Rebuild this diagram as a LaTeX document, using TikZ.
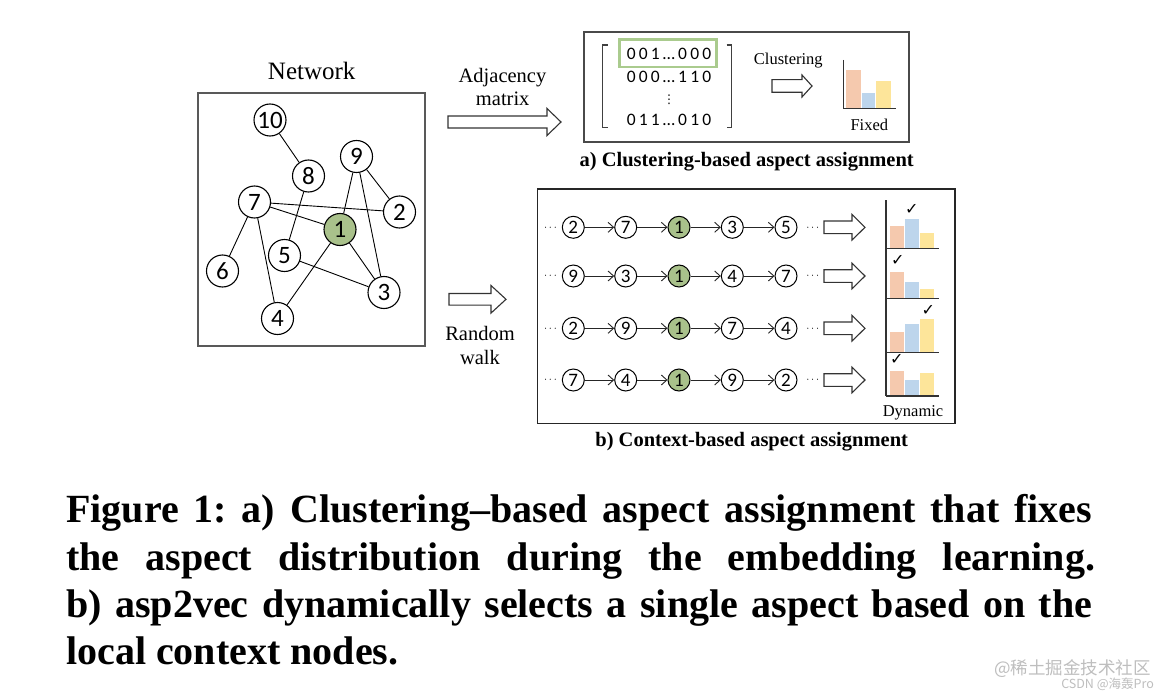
\documentclass[tikz,border=0pt]{standalone}
\usepackage{fontspec}
\setmainfont{Liberation Serif}
\newfontfamily\numfont{Carlito}
\newfontfamily\symfont{DejaVu Sans}
\newfontfamily\cjkfont{Noto Sans CJK SC}
\usetikzlibrary{arrows.meta}
\definecolor{nodegreen}{HTML}{A9C18B}
\definecolor{hlgreen}{HTML}{AACB8E}
\definecolor{barorange}{HTML}{F5C9AE}
\definecolor{barblue}{HTML}{BDD5EC}
\definecolor{baryellow}{HTML}{FDE59A}
\definecolor{framegray}{HTML}{4A4A4A}
\definecolor{wmgray}{HTML}{BEBEBE}
\tikzset{
  netnode/.style={circle, draw=black, line width=1.1pt, fill=white, minimum size=32pt, inner sep=0pt, font=\numfont\fontsize{25}{25}\selectfont},
  walknode/.style={circle, draw=black, line width=1pt, fill=white, minimum size=22pt, inner sep=0pt, font=\numfont\fontsize{19}{19}\selectfont},
  focusnode/.style={fill=nodegreen},
  netedge/.style={line width=0.9pt, black},
  walkedge/.style={line width=0.9pt, black!85, -{Straight Barb[length=5.5pt,width=10pt,line width=0.9pt]}},
  panel/.style={draw=framegray, line width=1.2pt},
  blockarrow/.style={draw=black!80, line width=1.1pt, fill=white, line join=miter},
  lbl/.style={inner sep=0pt, anchor=base, font=\fontsize{20.5}{24}\selectfont},
  smalltxt/.style={inner sep=0pt, anchor=base, font=\fontsize{16.5}{18}\selectfont},
  boldcap/.style={inner sep=0pt, anchor=base, font=\bfseries\fontsize{20.5}{22}\selectfont},
  chartaxis/.style={draw=black!80, line width=1.2pt},
  mrow/.style={inner sep=0pt, anchor=base, font=\numfont\fontsize{17.5}{18}\selectfont},
  captxt/.style={inner sep=0pt, anchor=base west, font=\frenchspacing\bfseries\fontsize{40}{47}\selectfont},
  dotstxt/.style={inner sep=0pt, anchor=base, font=\fontsize{11}{11}\selectfont},
  checktxt/.style={inner sep=0pt, font=\symfont\fontsize{16}{16}\selectfont},
  wmtxt/.style={inner sep=0pt, anchor=base east, text=wmgray, font=\cjkfont},
}
\newcommand\blockarr[6]{%
  \draw[blockarrow] (#1,#3-#4) -- (#2-#6,#3-#4) -- (#2-#6,#3-#5) -- (#2,#3) -- (#2-#6,#3+#5) -- (#2-#6,#3+#4) -- (#1,#3+#4) -- cycle;}
\newcommand\ms{\hspace{3.2pt}}
\begin{document}
\begin{tikzpicture}[x=1pt,y=-1pt]
\useasboundingbox (0,0) rectangle (1170,698);
\fill[white] (0,0) rectangle (1170,698);

% ---------------- Network ----------------
\node[lbl, font=\fontsize{25}{26}\selectfont] (nettitle) at (311.7,80) {Network};
\draw[panel, draw=black!65] (198,93) rectangle (425,346);
\node[netnode] (n10) at (270,120) {10};
\node[netnode] (n8) at (308.5,176) {8};
\node[netnode] (n9) at (356.5,156.5) {9};
\node[netnode] (n7) at (254.5,202) {7};
\node[netnode] (n2) at (399.5,212) {2};
\node[netnode, focusnode] (n1) at (340,229.5) {1};
\node[netnode] (n5) at (284.5,255.5) {5};
\node[netnode] (n6) at (222.5,271) {6};
\node[netnode] (n3) at (384,292.5) {3};
\node[netnode] (n4) at (277.5,318.5) {4};
\draw[netedge] (n10) -- (n8);
\draw[netedge] (n8) -- (n5);
\draw[netedge] (n9) -- (n1);
\draw[netedge] (n9) -- (n2);
\draw[netedge] (n9) -- (n3);
\draw[netedge] (n7) -- (n2);
\draw[netedge] (n7) -- (n1);
\draw[netedge] (n7) -- (n6);
\draw[netedge] (n7) -- (n4);
\draw[netedge] (n1) -- (n4);
\draw[netedge] (n1) -- (n3);
\draw[netedge] (n5) -- (n3);

% ---------------- Adjacency arrow ----------------
\node[lbl] (adjA) at (502.5,82.3) {Adjacency};
\node[lbl] (adjB) at (502.7,105.7) {matrix};
\blockarr{448}{561}{122}{6}{13.5}{14}

% ---------------- Panel a ----------------
\draw[panel] (584,32) rectangle (909,142);
\draw[chartaxis, draw=black!75] (607.7,45) -- (602.7,45) -- (602.7,127.7) -- (607.7,127.7);
\draw[chartaxis, draw=black!75] (726.7,45) -- (731.7,45) -- (731.7,127.7) -- (726.7,127.7);
\draw[hlgreen, line width=2.6pt] (619.3,39.5) rectangle (716.7,67);
\node[mrow] (r1) at (669,59.3) {0\ms0\ms1\ms…\ms0\ms0\ms0};
\node[mrow] (r2) at (669,82.3) {0\ms0\ms0\ms…\ms1\ms1\ms0};
\node[inner sep=0pt, font=\symfont\fontsize{12}{12}\selectfont] (rdots) at (669,100) {⋮};
\node[mrow] (r3) at (669,125.7) {0\ms1\ms1\ms…\ms0\ms1\ms0};
\node[smalltxt] (clus) at (788.3,64.3) {Clustering};
\blockarr{772}{812}{86}{6.3}{11}{10}
\fill[barorange] (846,70) rectangle (860.7,108.3);
\fill[barblue] (861.7,92.7) rectangle (875,108.3);
\fill[baryellow] (876,80.7) rectangle (890.7,108.3);
\draw[chartaxis] (843.3,60) -- (843.3,108.3) -- (896,108.3);
\node[smalltxt] (fixed) at (869.3,131) {Fixed};
\node[boldcap] (capa) at (746.7,166.7) {a) Clustering-based aspect assignment};

% ---------------- Random walk arrow ----------------
\blockarr{449}{506}{299.3}{5.8}{13.8}{15}
\node[lbl] (rwA) at (480,340.7) {Random};
\node[lbl] (rwB) at (480,364) {walk};

% ---------------- Panel b ----------------
\draw[panel, draw=black!85] (537.3,189) rectangle (955,423.7);
\foreach \r/\yy/\a/\b/\d/\e in {1/227.3/2/7/3/5, 2/276/9/3/4/7, 3/328.3/2/9/7/4, 4/380/7/4/9/2} {
  \node[walknode] (w\r a) at (573.3,\yy) {\a};
  \node[walknode] (w\r b) at (625.7,\yy) {\b};
  \node[walknode, focusnode] (w\r c) at (679,\yy) {1};
  \node[walknode] (w\r d) at (732.3,\yy) {\d};
  \node[walknode] (w\r e) at (786,\yy) {\e};
  \draw[walkedge] (w\r a) -- (w\r b);
  \draw[walkedge] (w\r b) -- (w\r c);
  \draw[walkedge] (w\r c) -- (w\r d);
  \draw[walkedge] (w\r d) -- (w\r e);
  \node[dotstxt] (dl\r) at (550.5,\yy+2.8) {$\cdots$};
  \node[dotstxt] (dr\r) at (812.7,\yy+2.8) {$\cdots$};
  \blockarr{824}{865}{\yy}{6.3}{12.8}{13}
}
% dynamic charts
\foreach \base/\o/\bb/\yl/\cx/\cy in {248.3/225.7/218.7/233/911.7/209.7, 298.3/272/282.3/289/897.7/260.7, 352.3/332.3/324/319/928.3/310.7, 396/370.7/380/373/896.7/359.7} {
  \fill[barorange] (890,\o) rectangle (904.3,\base);
  \fill[barblue] (905,\bb) rectangle (919.3,\base);
  \fill[baryellow] (920,\yl) rectangle (934,\base);
  \draw[chartaxis] (886,\base) -- (939.3,\base);
  \node[checktxt] at (\cx,\cy) {✓};
}
\draw[chartaxis] (886,200) -- (886,396);
\node[smalltxt] (dyn) at (913,416.7) {Dynamic};
\node[boldcap] (capb) at (751.7,446.7) {b) Context-based aspect assignment};

% ---------------- Caption ----------------
\node[captxt] (cap1) at (66,522.7) {\makebox[1026pt][s]{Figure 1: a) Clustering–based aspect assignment that fixes}};
\node[captxt] (cap2) at (66,570) {\makebox[1029pt][s]{the aspect distribution during the embedding learning.}};
\node[captxt] (cap3) at (66,617.3) {\makebox[1026pt][s]{b) asp2vec dynamically selects a single aspect based on the}};
\node[captxt] (cap4) at (66,664.6) {local context nodes.};

% ---------------- Watermark ----------------
\node[wmtxt, font=\cjkfont\fontsize{17.5}{18}\selectfont] (wm1) at (1151,674) {@稀土掘金技术社区};
\node[wmtxt, font=\cjkfont\fontsize{12.5}{13}\selectfont] (wm2) at (1154,688) {CSDN @海轰Pro};
\end{tikzpicture}
\end{document}
